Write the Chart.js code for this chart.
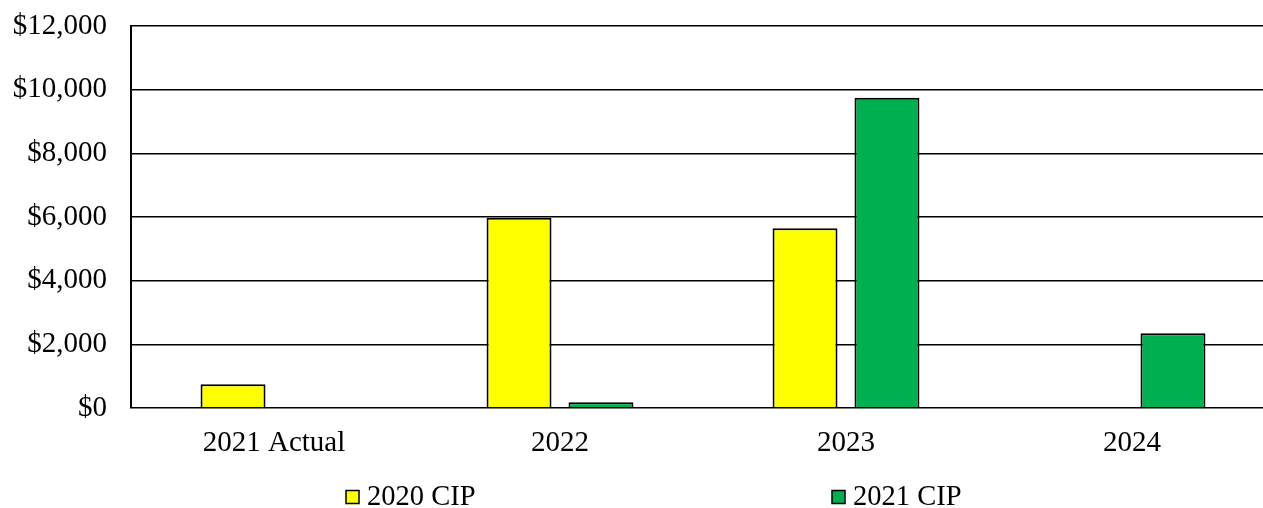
<!DOCTYPE html>
<html>
<head>
<meta charset="utf-8">
<script src="https://cdn.jsdelivr.net/npm/chart.js@4"></script>
<style>
  html, body { margin: 0; padding: 0; background: #fff; overflow: hidden; }
  #wrap { position: relative; width: 1276px; height: 508px; }
</style>
</head>
<body>
<div id="wrap"><canvas id="c"></canvas></div>
<script>
const categories = ["2021 Actual", "2022", "2023", "2024"];
const cip2020 = [750, 5980, 5650, null];
const cip2021 = [null, 180, 9750, 2350];
const seriesNames = ["2020 CIP", "2021 CIP"];
const yTicks = [0, 2000, 4000, 6000, 8000, 10000, 12000];

const FONT = "'Liberation Serif', 'Times New Roman', serif";
const FS = 29;

const legendPlugin = {
  id: 'customLegend',
  afterDraw(chart) {
    const ctx = chart.ctx;
    const starts = [346, 832];
    const y = 497;
    ctx.save();
    ctx.font = "28.5px " + FONT;
    ctx.textBaseline = 'middle';
    ctx.textAlign = 'left';
    chart.data.datasets.forEach((ds, i) => {
      const x = starts[i];
      ctx.fillStyle = ds.backgroundColor;
      ctx.fillRect(x, y - 6.5, 13, 13);
      ctx.strokeStyle = '#000';
      ctx.lineWidth = 1.5;
      ctx.strokeRect(x, y - 6.5, 13, 13);
      ctx.fillStyle = '#000';
      ctx.fillText(ds.label, x + 21, y + 1);
    });
    ctx.restore();
  }
};

new Chart(document.getElementById('c'), {
  type: 'bar',
  data: {
    labels: categories,
    datasets: [
      { label: seriesNames[0], data: cip2020, backgroundColor: '#FFFF00', borderColor: '#000', borderWidth: 2,
        categoryPercentage: 0.573, barPercentage: 0.793 },
      { label: seriesNames[1], data: cip2021, backgroundColor: '#00B050', borderColor: '#000', borderWidth: 2,
        categoryPercentage: 0.573, barPercentage: 0.793 }
    ]
  },
  options: {
    responsive: true,
    maintainAspectRatio: false,
    animation: false,
    layout: { padding: { top: 26, right: 1, left: 0, bottom: 0 } },
    plugins: { legend: { display: false }, tooltip: { enabled: false } },
    scales: {
      x: {
        grid: { display: false, drawTicks: false },
        border: { display: false },
        ticks: { color: '#000', font: { family: FONT, size: FS }, padding: 18, maxRotation: 0 },
        afterFit(scale) { scale.height = 100; scale.paddingLeft = 0; scale.paddingRight = 0; }
      },
      y: {
        min: 0, max: 12000,
        afterBuildTicks(scale) { scale.ticks = yTicks.map(v => ({ value: v })); },
        grid: { color: '#000', lineWidth: 1.6, drawTicks: false },
        border: { display: true, color: '#000', width: 2 },
        ticks: {
          color: '#000', font: { family: FONT, size: FS }, padding: 24,
          callback: v => '$' + Number(v).toLocaleString('en-US')
        },
        afterFit(scale) { scale.width = 131; scale.paddingTop = 0; scale.paddingBottom = 0; }
      }
    }
  },
  plugins: [legendPlugin]
});
</script>
</body>
</html>
